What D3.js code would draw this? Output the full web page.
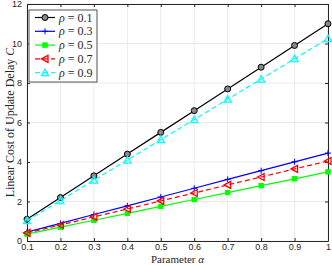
<!DOCTYPE html>
<html>
<head>
<meta charset="utf-8">
<script src="https://cdn.jsdelivr.net/npm/d3@7"></script>
<style>
body { margin: 0; background: #fff; }
.tick text { font-family: "Liberation Sans", Arial, sans-serif; font-size: 9px; fill: #262626; }
.lbl { font-family: "Liberation Serif", "DejaVu Serif", serif; font-size: 12px; fill: #262626; }
</style>
</head>
<body>
<script>
// data
var alphas = [0.1, 0.2, 0.3, 0.4, 0.5, 0.6, 0.7, 0.8, 0.9, 1.0];
var rho01 = [1.1, 2.2, 3.3, 4.4, 5.5, 6.6, 7.7, 8.8, 9.9, 11.0];
var rho03 = [0.45, 0.89, 1.34, 1.78, 2.23, 2.67, 3.12, 3.56, 4.01, 4.45];
var rho05 = [0.35, 0.7, 1.05, 1.4, 1.75, 2.1, 2.45, 2.8, 3.15, 3.5];
var rho07 = [0.41, 0.81, 1.22, 1.62, 2.03, 2.43, 2.84, 3.24, 3.65, 4.05];
var rho09 = [1.03, 2.05, 3.08, 4.1, 5.13, 6.15, 7.18, 8.2, 9.23, 10.25];
var legendLabels = ["0.1", "0.3", "0.5", "0.7", "0.9"];
var xTicks = [0.1, 0.2, 0.3, 0.4, 0.5, 0.6, 0.7, 0.8, 0.9, 1];
var yTicks = [0, 2, 4, 6, 8, 10, 12];

var series = [
  {vals: rho01, color: "#000000", dash: null, marker: "circle"},
  {vals: rho03, color: "#0000ff", dash: null, marker: "plus"},
  {vals: rho05, color: "#00ff00", dash: null, marker: "square"},
  {vals: rho07, color: "#ff0000", dash: "5,3", marker: "left"},
  {vals: rho09, color: "#00ffff", dash: "5,3", marker: "up"}
];

var margin = {left: 27, right: 4, top: 4, bottom: 24},
    width = 332 - margin.left - margin.right,
    height = 265 - margin.top - margin.bottom;

var svg = d3.select("body").append("svg")
    .attr("width", 332).attr("height", 265)
    .append("g")
    .attr("transform", "translate(" + margin.left + "," + margin.top + ")");

var x = d3.scaleLinear().domain([0.1, 1]).range([0, width]);
var y = d3.scaleLinear().domain([0, 12]).range([height, 0]);

// grid
svg.append("g").selectAll("line").data(xTicks).enter().append("line")
    .attr("x1", function(d) { return x(d); }).attr("x2", function(d) { return x(d); })
    .attr("y1", 0).attr("y2", height)
    .attr("stroke", "#e6e6e6").attr("stroke-width", 0.8);
svg.append("g").selectAll("line").data(yTicks).enter().append("line")
    .attr("y1", function(d) { return y(d); }).attr("y2", function(d) { return y(d); })
    .attr("x1", 0).attr("x2", width)
    .attr("stroke", "#e6e6e6").attr("stroke-width", 0.8);

// axes
svg.append("g").attr("transform", "translate(0," + height + ")")
    .call(d3.axisBottom(x).tickValues(xTicks).tickSizeInner(-3).tickSizeOuter(0).tickPadding(3)
    .tickFormat(function(d) { return d === 1 ? "1" : d3.format(".1f")(d); }));
svg.append("g")
    .call(d3.axisLeft(y).tickValues(yTicks).tickSizeInner(-3).tickSizeOuter(0).tickPadding(5));
svg.append("g")
    .call(d3.axisTop(x).tickValues(xTicks).tickSizeInner(-3).tickSizeOuter(0).tickFormat(""));
svg.append("g").attr("transform", "translate(" + width + ",0)")
    .call(d3.axisRight(y).tickValues(yTicks).tickSizeInner(-3).tickSizeOuter(0).tickFormat(""));
svg.selectAll(".domain").attr("stroke", "#262626");
svg.selectAll(".tick line").attr("stroke", "#262626");

function drawMarker(g, type, cx, cy, color) {
  var s = 3;
  if (type === "circle") {
    g.append("circle").attr("cx", cx).attr("cy", cy).attr("r", 3)
      .attr("fill", "#888").attr("stroke", color).attr("stroke-width", 1);
  } else if (type === "plus") {
    g.append("path").attr("d", "M" + (cx - s) + "," + cy + "h" + (2 * s) + "M" + cx + "," + (cy - s) + "v" + (2 * s))
      .attr("stroke", color).attr("stroke-width", 1);
  } else if (type === "square") {
    g.append("rect").attr("x", cx - 2.2).attr("y", cy - 2.2).attr("width", 4.4).attr("height", 4.4)
      .attr("fill", color).attr("stroke", color);
  } else if (type === "left") {
    g.append("path").attr("d", "M" + (cx - 3.5) + "," + cy + "L" + (cx + 3) + "," + (cy - 3.5) + "L" + (cx + 3) + "," + (cy + 3.5) + "Z")
      .attr("fill", "none").attr("stroke", color).attr("stroke-width", 1.3);
  } else if (type === "up") {
    g.append("path").attr("d", "M" + cx + "," + (cy - 3.5) + "L" + (cx + 3.5) + "," + (cy + 3) + "L" + (cx - 3.5) + "," + (cy + 3) + "Z")
      .attr("fill", "none").attr("stroke", color).attr("stroke-width", 1.3);
  }
}

var line = d3.line().x(function(d, i) { return x(alphas[i]); }).y(function(d) { return y(d); });

series.forEach(function(s) {
  var g = svg.append("g");
  g.append("path").datum(s.vals).attr("d", line)
    .attr("fill", "none").attr("stroke", s.color).attr("stroke-width", 1.2)
    .attr("stroke-dasharray", s.dash);
  s.vals.forEach(function(v, i) { drawMarker(g, s.marker, x(alphas[i]), y(v), s.color); });
});

// legend
var lg = svg.append("g").attr("transform", "translate(2,6)");
lg.append("rect").attr("width", 68).attr("height", 72)
  .attr("fill", "#fff").attr("stroke", "#262626").attr("stroke-width", 0.8);
series.forEach(function(s, i) {
  var yy = 7.5 + i * 13.8;
  lg.append("line").attr("x1", 6).attr("x2", 26).attr("y1", yy).attr("y2", yy)
    .attr("stroke", s.color).attr("stroke-width", 1.2).attr("stroke-dasharray", s.dash);
  drawMarker(lg, s.marker, 16, yy, s.color);
  var t = lg.append("text").attr("class", "lbl").attr("x", 30).attr("y", yy + 4);
  t.append("tspan").attr("font-style", "italic").text("ρ");
  t.append("tspan").text(" = " + legendLabels[i]);
});

// axis labels
var xl = svg.append("text").attr("class", "lbl").attr("text-anchor", "middle")
  .style("font-size", "11px")
  .attr("x", width / 2).attr("y", height + 22);
xl.append("tspan").text("Parameter ");
xl.append("tspan").attr("font-style", "italic").text("α");

var yl = svg.append("text").attr("class", "lbl").attr("text-anchor", "middle")
  .attr("transform", "translate(-13," + (height / 2) + ") rotate(-90)");
yl.append("tspan").text("Linear Cost of Update Delay ");
yl.append("tspan").attr("font-style", "italic").text("C");
</script>
</body>
</html>
